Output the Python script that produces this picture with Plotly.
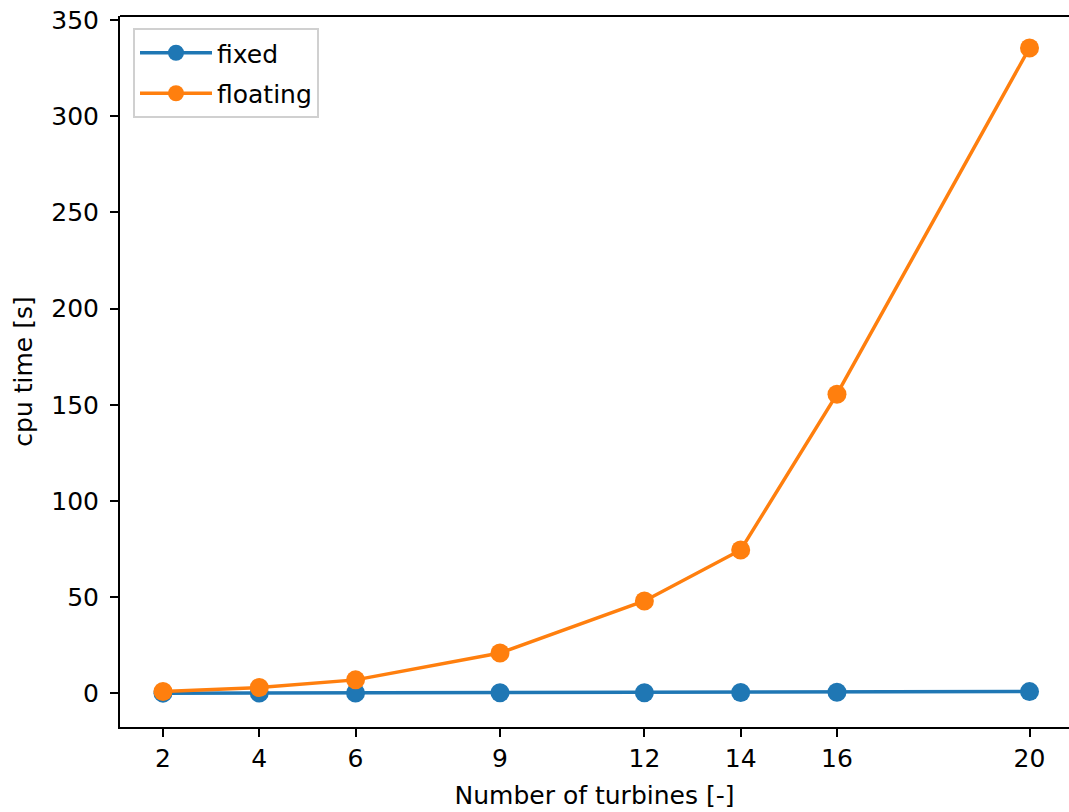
import plotly.graph_objects as go

# Number of turbines in the farm
turbines = [2, 4, 6, 9, 12, 14, 16, 20]
# CPU time [s] per configuration
cpu_fixed = [0.1, 0.15, 0.2, 0.3, 0.35, 0.45, 0.55, 0.9]
cpu_floating = [1.0, 3.0, 7.0, 21.0, 48.0, 74.5, 155.5, 335.5]
tick_vals = [2, 4, 6, 9, 12, 14, 16, 20]
y_ticks = [0, 50, 100, 150, 200, 250, 300, 350]

BLUE = "#1f77b4"
ORANGE = "#ff7f0e"
FONT = "DejaVu Sans"
FS = 25

fig = go.Figure()
fig.add_trace(go.Scatter(
    x=turbines, y=cpu_fixed, name="fixed", mode="lines+markers", legendgroup="fixed",
    line=dict(color=BLUE, width=3.5), marker=dict(color=BLUE, size=19),
))
fig.add_trace(go.Scatter(
    x=turbines, y=cpu_floating, name="floating", mode="lines+markers", legendgroup="floating",
    line=dict(color=ORANGE, width=3.5), marker=dict(color=ORANGE, size=19),
))

W, H = 1069, 812
L, R, T, B = 120, 0, 16, 85

# top spine of the axes box
fig.add_shape(type="line", xref="paper", yref="paper", x0=0, x1=1, y0=1, y1=1,
              line=dict(color="black", width=2))

fig.update_layout(
    width=W, height=H,
    margin=dict(l=L, r=R, t=T, b=B, pad=0),
    paper_bgcolor="white", plot_bgcolor="white",
    font=dict(family=FONT, size=FS, color="black"),
    showlegend=True,
    legend=dict(
        x=(133 - L) / (W - L - R), y=1 - (28 - T) / (H - T - B),
        xanchor="left", yanchor="top",
        bgcolor="rgba(255,255,255,0.8)", bordercolor="#d0d0d0", borderwidth=2,
        font=dict(family=FONT, size=FS, color="black"),
        itemwidth=72, tracegroupgap=5,
    ),
    xaxis=dict(
        range=[1.107, 20.82], tickmode="array", tickvals=tick_vals,
        showgrid=False, zeroline=False,
        showline=True, linecolor="black", linewidth=2, mirror=False,
        ticks="outside", ticklen=8, tickwidth=2, tickcolor="black",
        tickfont=dict(family=FONT, size=FS, color="black"),
        title=dict(text="Number of turbines [-]", standoff=14,
                   font=dict(family=FONT, size=FS, color="black")),
    ),
    yaxis=dict(
        range=[-17.5, 352.1], tickmode="array", tickvals=y_ticks,
        showgrid=False, zeroline=False,
        showline=True, linecolor="black", linewidth=2, mirror=False,
        ticks="outside", ticklen=8, tickwidth=2, tickcolor="black",
        ticklabelstandoff=6,
        tickfont=dict(family=FONT, size=FS, color="black"),
        title=dict(text="cpu time [s]", standoff=12,
                   font=dict(family=FONT, size=FS, color="black")),
    ),
)

fig.write_html("out.html")
